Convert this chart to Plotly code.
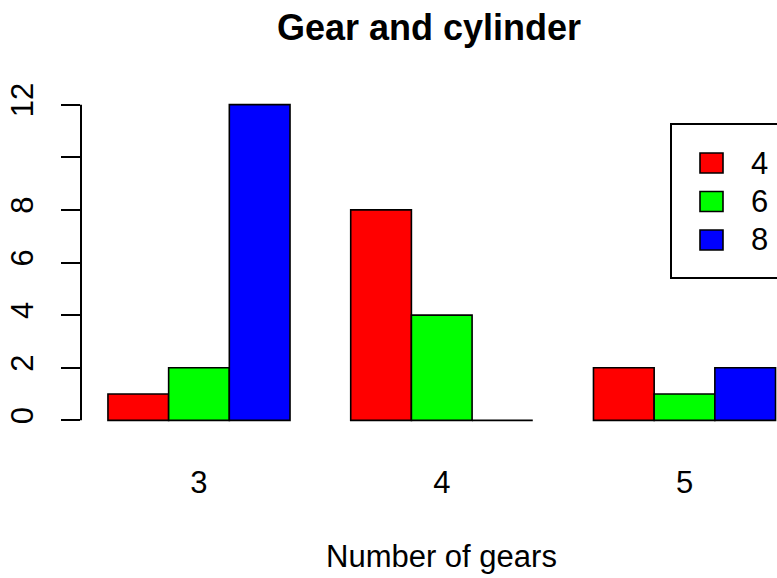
import plotly.graph_objects as go

gears = ["3", "4", "5"]
cylinders = ["4", "6", "8"]
counts_4cyl = [1, 8, 2]
counts_6cyl = [2, 4, 1]
counts_8cyl = [12, 0, 2]
y_tickvals = [0, 2, 4, 6, 8, 10, 12]
y_ticktext = ["0", "2", "4", "6", "8", "", "12"]

colors = ["#FF0000", "#00FF00", "#0000FF"]
FONT = "Liberation Sans, Arial, sans-serif"

W, H = 777, 578
L, R, T, B = 81, 0, 92, 145


def px_x(px):
    return (px - L) / (W - L - R)


def px_y(py):
    return (H - B - py) / (H - T - B)


fig = go.Figure()
for name, vals, col in zip(cylinders, [counts_4cyl, counts_6cyl, counts_8cyl], colors):
    fig.add_trace(go.Bar(
        x=gears, y=vals, name=name,
        marker=dict(color=col, line=dict(color="black", width=1.6)),
    ))

# y axis line only spans the tick range, like base R
fig.add_shape(type="line", xref="paper", yref="y", x0=0, x1=0,
              y0=y_tickvals[0], y1=y_tickvals[-1],
              line=dict(color="black", width=2))

# legend box drawn by hand (base R style, cut at the right edge)
fig.add_shape(type="rect", xref="paper", yref="paper",
              x0=px_x(671), x1=px_x(800), y0=px_y(278), y1=px_y(124),
              line=dict(color="black", width=2), fillcolor="white", layer="below")
for i, (name, col) in enumerate(zip(cylinders, colors)):
    cy = 163 + i * 38.5
    fig.add_shape(type="rect", xref="paper", yref="paper",
                  x0=px_x(700), x1=px_x(723), y0=px_y(cy + 10), y1=px_y(cy - 10),
                  line=dict(color="black", width=1.6), fillcolor=col)
    fig.add_annotation(text=name, xref="paper", yref="paper",
                       x=px_x(749), y=px_y(cy), xanchor="left", yanchor="middle",
                       showarrow=False, font=dict(size=31, color="black", family=FONT))

fig.add_annotation(text="Number of gears", xref="paper", yref="paper",
                   x=px_x(441), y=px_y(556), xanchor="center", yanchor="middle",
                   showarrow=False, font=dict(size=31, color="black", family=FONT))

fig.update_layout(
    width=W, height=H,
    margin=dict(l=L, r=R, t=T, b=B, pad=0),
    paper_bgcolor="white", plot_bgcolor="white",
    barmode="group", bargap=0.25, bargroupgap=0,
    showlegend=False,
    font=dict(family=FONT, size=31, color="black"),
    title=dict(text="<b>Gear and cylinder</b>", x=0.5, xref="paper",
               y=1 - 27 / H, yanchor="middle",
               font=dict(size=36, family=FONT, color="black")),
    xaxis=dict(range=[-0.486, 2.381], showgrid=False, zeroline=False,
               showline=False, ticks="", ticklabelstandoff=28,
               tickfont=dict(size=31)),
    yaxis=dict(range=[-0.48, 12.48], showgrid=False, zeroline=False,
               showline=False, ticks="outside", ticklen=19, tickwidth=2,
               tickcolor="black", tickvals=y_tickvals, ticktext=y_ticktext,
               tickangle=-90, ticklabelstandoff=16, tickfont=dict(size=31)),
)

fig.write_html("out.html", config={"displayModeBar": False},
               post_script="document.body.style.margin='0';")
